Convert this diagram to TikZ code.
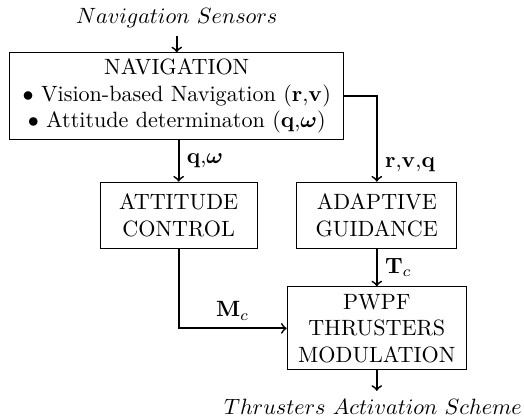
\documentclass[tikz,border=0pt]{standalone}
\usepackage{amsmath}
\usepackage{bm}
\usetikzlibrary{positioning}

\begin{document}
\begin{tikzpicture}[%
      block/.style={draw, thin, align=center, inner sep=2pt},
      conn/.style={thick, ->},
      ]
      \useasboundingbox (0,0) rectangle (8.33,-6.66);

      % blocks
      \node[block, minimum width=5.31cm, minimum height=1.38cm] (nav) at (2.81,-1.53)
            {NAVIGATION\\ $\bullet$ Vision-based Navigation ($\mathbf{r}$,$\mathbf{v}$)\\
             $\bullet$ Attitude determinaton ($\mathbf{q}$,$\bm{\omega}$)};
      \node[block, minimum width=2.50cm, minimum height=1.05cm] (att) at (2.84,-3.42)
            {ATTITUDE\\ CONTROL};
      \node[block, minimum width=2.54cm, minimum height=1.05cm] (gui) at (5.99,-3.42)
            {ADAPTIVE\\ GUIDANCE};
      \node[block, minimum width=2.85cm, minimum height=1.32cm] (pwpf) at (5.99,-5.22)
            {PWPF\\ THRUSTERS\\ MODULATION};

      % inputs / outputs
      \node (sens) at (2.81,-0.29) {$Navigation\ Sensors$};
      \node (act) at (5.93,-6.46) {$Thrusters\ Activation\ Scheme$};

      % connectors
      \draw[conn] (sens) -- (nav);
      \draw[conn] (att.north |- nav.south) -- node[right] {$\mathbf{q}$,$\bm{\omega}$} (att.north);
      \draw[conn] (nav.east) -| node[pos=0.9, right] {$\mathbf{r}$,$\mathbf{v}$,$\mathbf{q}$} (gui.north);
      \draw[conn] (gui.south) -- node[right] {$\mathbf{T}_c$} (pwpf.north);
      \draw[conn] (att.south) |- node[pos=0.75, above] {$\mathbf{M}_c$} (pwpf.west);
      \draw[conn] (pwpf.south) -- (pwpf.south |- act.north);
\end{tikzpicture}
\end{document}
